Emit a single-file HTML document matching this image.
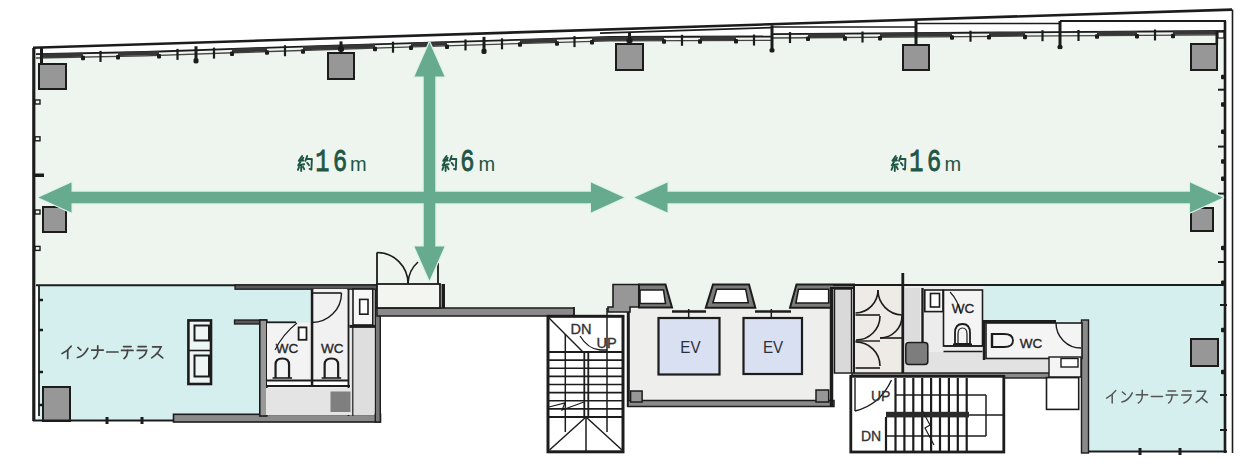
<!DOCTYPE html>
<html><head><meta charset="utf-8"><style>
html,body{margin:0;padding:0;background:#fff;}
body{width:1243px;height:465px;overflow:hidden;font-family:"Liberation Sans",sans-serif;}
svg{display:block;}
</style></head><body>
<svg width="1243" height="465" viewBox="0 0 1243 465">
<rect width="1243" height="465" fill="#fff"/>
<polygon points="36,54.2 145,52 255,48.2 405,43.3 535,39.3 610,37 771.9,36.5 772.1,34.2 1000,32.5 1224,31 1224,286 831,286 831,309 613,309 613,315 440,315 440,286 36,286" fill="#edf5ee"/>
<polygon points="38,286 312,286 312,322 260,322 260,416 173,416 173,420 38,420" fill="#d5eeee"/>
<polygon points="984,286 1224,286 1224,451 1088,451 1088,321 984,321" fill="#d5eeee"/>
<rect x="312" y="289" width="63" height="127" fill="#ececec"/>
<rect x="262" y="322" width="50" height="94" fill="#ececec"/>
<rect x="628" y="309" width="205" height="92" fill="#eeeeec"/>
<rect x="833" y="286" width="20" height="88" fill="#d9d9d9"/>
<rect x="855" y="286" width="47" height="88" fill="#eeebe6"/>
<rect x="903" y="286" width="81" height="88" fill="#ececec"/>
<rect x="984" y="321" width="104" height="53" fill="#ececec"/>
<rect x="377" y="284" width="63" height="24" fill="#f2f4f0"/>
<line x1="33" y1="47.8" x2="1232" y2="9.6" stroke="#1c1c1c" stroke-width="2.6"/>
<line x1="600" y1="33.0354" x2="772" y2="27.5555" stroke="#1c1c1c" stroke-width="1.8"/>
<polyline points="36,54.2 145,52 255,48.2 405,43.3 535,39.3 610,37 771.9,36.5 772.1,34.2 1000,32.5 1225,31" fill="none" stroke="#1c1c1c" stroke-width="1.8"/>
<polyline points="36,58 145,55.8 255,52 405,47.1 535,43.1 610,40.8 771.9,40.3 772.1,38 1000,36.3 1225,34.8" fill="none" stroke="#444" stroke-width="1.3"/>
<polygon points="43,53.5587 83,52.7514 83,56.7514 43,57.5587" fill="#363636"/>
<polygon points="118,52.045 159,51.0164 159,55.0164 118,56.045" fill="#363636"/>
<polygon points="232,48.4945 267,47.308 267,51.308 232,52.4945" fill="#363636"/>
<polygon points="303,46.132 375,43.78 375,47.78 303,50.132" fill="#363636"/>
<polygon points="411,42.6154 447,41.5077 447,45.5077 411,46.6154" fill="#363636"/>
<polygon points="520,39.2615 557,38.1253 557,42.1253 520,43.2615" fill="#363636"/>
<polygon points="592,37.052 664,36.3332 664,40.3332 592,41.052" fill="#363636"/>
<polygon points="700,36.2221 736,36.1109 736,40.1109 700,40.2221" fill="#363636"/>
<polygon points="808,33.4322 845,33.1562 845,37.1562 808,37.4322" fill="#363636"/>
<polygon points="880,32.8951 952,32.3581 952,36.3581 880,36.8951" fill="#363636"/>
<polygon points="989,32.0821 1025,31.8333 1025,35.8333 989,36.0821" fill="#363636"/>
<polygon points="1097,31.3533 1137,31.0867 1137,35.0867 1097,35.3533" fill="#363636"/>
<polygon points="1173,30.8467 1222,30.52 1222,34.52 1173,34.8467" fill="#363636"/>
<rect x="99.4" y="50.8982" width="2.2" height="11" fill="#1c1c1c"/>
<rect x="81" y="55.7514" width="4" height="4.5" rx="1" fill="#1c1c1c"/>
<rect x="116" y="55.045" width="4" height="4.5" rx="1" fill="#1c1c1c"/>
<rect x="176.4" y="48.8773" width="2.2" height="11" fill="#1c1c1c"/>
<rect x="157" y="54.0164" width="4" height="4.5" rx="1" fill="#1c1c1c"/>
<rect x="212.9" y="47.6164" width="2.2" height="11" fill="#1c1c1c"/>
<rect x="230" y="51.4945" width="4" height="4.5" rx="1" fill="#1c1c1c"/>
<rect x="283.9" y="45.22" width="2.2" height="11" fill="#1c1c1c"/>
<rect x="265" y="50.308" width="4" height="4.5" rx="1" fill="#1c1c1c"/>
<rect x="301" y="49.132" width="4" height="4.5" rx="1" fill="#1c1c1c"/>
<rect x="391.9" y="41.692" width="2.2" height="11" fill="#1c1c1c"/>
<rect x="373" y="46.78" width="4" height="4.5" rx="1" fill="#1c1c1c"/>
<rect x="409" y="45.6154" width="4" height="4.5" rx="1" fill="#1c1c1c"/>
<rect x="464.4" y="39.4385" width="2.2" height="11" fill="#1c1c1c"/>
<rect x="445" y="44.5077" width="4" height="4.5" rx="1" fill="#1c1c1c"/>
<rect x="500.9" y="38.3154" width="2.2" height="11" fill="#1c1c1c"/>
<rect x="518" y="42.2615" width="4" height="4.5" rx="1" fill="#1c1c1c"/>
<rect x="573.4" y="36.0887" width="2.2" height="11" fill="#1c1c1c"/>
<rect x="555" y="41.1253" width="4" height="4.5" rx="1" fill="#1c1c1c"/>
<rect x="590" y="40.052" width="4" height="4.5" rx="1" fill="#1c1c1c"/>
<rect x="680.9" y="34.7776" width="2.2" height="11" fill="#1c1c1c"/>
<rect x="662" y="39.3332" width="4" height="4.5" rx="1" fill="#1c1c1c"/>
<rect x="698" y="39.2221" width="4" height="4.5" rx="1" fill="#1c1c1c"/>
<rect x="752.9" y="34.5553" width="2.2" height="11" fill="#1c1c1c"/>
<rect x="734" y="39.1109" width="4" height="4.5" rx="1" fill="#1c1c1c"/>
<rect x="788.9" y="32.0665" width="2.2" height="11" fill="#1c1c1c"/>
<rect x="806" y="36.4322" width="4" height="4.5" rx="1" fill="#1c1c1c"/>
<rect x="861.4" y="31.5257" width="2.2" height="11" fill="#1c1c1c"/>
<rect x="843" y="36.1562" width="4" height="4.5" rx="1" fill="#1c1c1c"/>
<rect x="878" y="35.8951" width="4" height="4.5" rx="1" fill="#1c1c1c"/>
<rect x="969.4" y="30.7201" width="2.2" height="11" fill="#1c1c1c"/>
<rect x="950" y="35.3581" width="4" height="4.5" rx="1" fill="#1c1c1c"/>
<rect x="987" y="35.0821" width="4" height="4.5" rx="1" fill="#1c1c1c"/>
<rect x="1041.4" y="30.2167" width="2.2" height="11" fill="#1c1c1c"/>
<rect x="1023" y="34.8333" width="4" height="4.5" rx="1" fill="#1c1c1c"/>
<rect x="1077.4" y="29.9767" width="2.2" height="11" fill="#1c1c1c"/>
<rect x="1095" y="34.3533" width="4" height="4.5" rx="1" fill="#1c1c1c"/>
<rect x="1153.9" y="29.4667" width="2.2" height="11" fill="#1c1c1c"/>
<rect x="1135" y="34.0867" width="4" height="4.5" rx="1" fill="#1c1c1c"/>
<rect x="1171" y="33.8467" width="4" height="4.5" rx="1" fill="#1c1c1c"/>
<rect x="194.5" y="46.2382" width="3" height="17" fill="#1c1c1c"/>
<rect x="193.5" y="58.2382" width="5" height="5" rx="1.5" fill="#1c1c1c"/>
<rect x="482.5" y="36.8692" width="3" height="17" fill="#1c1c1c"/>
<rect x="481.5" y="48.8692" width="5" height="5" rx="1.5" fill="#1c1c1c"/>
<rect x="770.5" y="25.2555" width="3" height="27.0945" fill="#1c1c1c"/>
<rect x="769.5" y="48.35" width="5" height="4" rx="1.5" fill="#1c1c1c"/>
<rect x="1058.5" y="21" width="3" height="28.1" fill="#1c1c1c"/>
<rect x="1057.5" y="45.1" width="5" height="4" rx="1.5" fill="#1c1c1c"/>
<rect x="339.5" y="41.3907" width="3" height="11.6093" fill="#1c1c1c"/>
<rect x="338" y="46.3907" width="6" height="5" rx="1.5" fill="#1c1c1c"/>
<rect x="628" y="32.9398" width="3" height="11.0602" fill="#1c1c1c"/>
<rect x="626.5" y="37.9398" width="6" height="5" rx="1.5" fill="#1c1c1c"/>
<rect x="914.5" y="20" width="3" height="26" fill="#1c1c1c"/>
<line x1="772" y1="27" x2="916" y2="27" stroke="#1c1c1c" stroke-width="1.6"/>
<line x1="916" y1="23.5" x2="1060" y2="23.5" stroke="#1c1c1c" stroke-width="1.6"/>
<line x1="1060" y1="21" x2="1226" y2="21" stroke="#1c1c1c" stroke-width="1.8"/>
<rect x="1215.5" y="31" width="2.6" height="14" fill="#1c1c1c"/>
<rect x="1218" y="32" width="6" height="6" fill="#fff" stroke="#1c1c1c" stroke-width="1.2"/>
<rect x="40" y="47" width="3" height="17" fill="#1c1c1c"/>
<line x1="1232.5" y1="9.5" x2="1232.5" y2="453" stroke="#1c1c1c" stroke-width="1.6"/>
<line x1="1225" y1="21" x2="1225" y2="453" stroke="#1c1c1c" stroke-width="2.6"/>
<line x1="33.8" y1="48" x2="33.8" y2="421" stroke="#1c1c1c" stroke-width="3.2"/>
<line x1="39" y1="286" x2="39" y2="416" stroke="#1c1c1c" stroke-width="1.8"/>
<rect x="35" y="100" width="5" height="4" fill="none" stroke="#1c1c1c" stroke-width="1.4"/>
<rect x="35" y="136.8" width="5" height="4" fill="none" stroke="#1c1c1c" stroke-width="1.4"/>
<rect x="35" y="210" width="5" height="4" fill="none" stroke="#1c1c1c" stroke-width="1.4"/>
<rect x="35" y="246.4" width="5" height="4" fill="none" stroke="#1c1c1c" stroke-width="1.4"/>
<rect x="35" y="173.5" width="9" height="3.5" fill="#1c1c1c"/>
<rect x="39" y="298.75" width="4" height="2.5" fill="#1c1c1c"/>
<rect x="39" y="328.75" width="4" height="2.5" fill="#1c1c1c"/>
<rect x="39" y="370.75" width="4" height="2.5" fill="#1c1c1c"/>
<rect x="39" y="403.75" width="4" height="2.5" fill="#1c1c1c"/>
<rect x="1218" y="88.7" width="8" height="2" fill="#1c1c1c"/>
<rect x="1218" y="145.6" width="8" height="2" fill="#1c1c1c"/>
<rect x="1218" y="192.6" width="8" height="2" fill="#1c1c1c"/>
<rect x="1218" y="261" width="8" height="2" fill="#1c1c1c"/>
<rect x="1221" y="74.75" width="4" height="4.5" rx="1" fill="#1c1c1c"/>
<rect x="1221" y="102.25" width="4" height="4.5" rx="1" fill="#1c1c1c"/>
<rect x="1221" y="129.55" width="4" height="4.5" rx="1" fill="#1c1c1c"/>
<rect x="1221" y="159.25" width="4" height="4.5" rx="1" fill="#1c1c1c"/>
<rect x="1221" y="176.55" width="4" height="4.5" rx="1" fill="#1c1c1c"/>
<rect x="1221" y="245.75" width="4" height="4.5" rx="1" fill="#1c1c1c"/>
<rect x="1221" y="280.55" width="4" height="4.5" rx="1" fill="#1c1c1c"/>
<rect x="1221" y="327.75" width="4" height="4.5" rx="1" fill="#1c1c1c"/>
<rect x="1221" y="369.75" width="4" height="4.5" rx="1" fill="#1c1c1c"/>
<rect x="1220" y="304" width="7" height="2" fill="#1c1c1c"/>
<rect x="1220" y="394" width="7" height="2" fill="#1c1c1c"/>
<rect x="1220" y="429" width="7" height="2" fill="#1c1c1c"/>
<rect x="39" y="64" width="27" height="25" fill="#979797" stroke="#1c1c1c" stroke-width="2"/>
<rect x="328" y="53" width="26" height="26" fill="#979797" stroke="#1c1c1c" stroke-width="2"/>
<rect x="616" y="44" width="27" height="26" fill="#979797" stroke="#1c1c1c" stroke-width="2"/>
<rect x="903" y="45" width="26" height="25" fill="#979797" stroke="#1c1c1c" stroke-width="2"/>
<rect x="1191" y="44" width="26" height="26" fill="#979797" stroke="#1c1c1c" stroke-width="2"/>
<rect x="43" y="207" width="23" height="25" fill="#979797" stroke="#1c1c1c" stroke-width="2"/>
<rect x="1191" y="208" width="22" height="23" fill="#979797" stroke="#1c1c1c" stroke-width="2"/>
<rect x="43" y="387" width="27" height="34" fill="#979797" stroke="#1c1c1c" stroke-width="2"/>
<rect x="1191" y="339" width="27" height="27" fill="#979797" stroke="#1c1c1c" stroke-width="2"/>
<line x1="36" y1="285.3" x2="377" y2="285.3" stroke="#1c1c1c" stroke-width="2"/>
<line x1="33" y1="420.5" x2="174" y2="420.5" stroke="#1c1c1c" stroke-width="1.8"/>
<rect x="105.5" y="417" width="3" height="7" fill="#1c1c1c"/>
<rect x="140.5" y="417" width="3" height="7" fill="#1c1c1c"/>
<rect x="173.5" y="414.3" width="207" height="7.7" fill="#8a8a8a" stroke="#1c1c1c" stroke-width="1.6"/>
<rect x="375.3" y="285" width="5" height="137" fill="#777777" stroke="#1c1c1c" stroke-width="1.4"/>
<rect x="235" y="285" width="142" height="4.2" fill="#5a5a5a" stroke="#1c1c1c" stroke-width="1.3"/>
<rect x="234.5" y="320" width="32" height="4" fill="#5a5a5a" stroke="#1c1c1c" stroke-width="1.3"/>
<rect x="259.8" y="320" width="7" height="96" fill="#999999" stroke="#1c1c1c" stroke-width="1.6"/>
<line x1="903" y1="285" x2="1224" y2="285" stroke="#1c1c1c" stroke-width="2"/>
<rect x="1081.5" y="320" width="7" height="133" fill="#8a8a8a" stroke="#1c1c1c" stroke-width="1.4"/>
<line x1="1088" y1="451.5" x2="1227" y2="451.5" stroke="#1c1c1c" stroke-width="1.8"/>
<rect x="1138.5" y="448" width="3" height="7" fill="#1c1c1c"/>
<rect x="1178.5" y="448" width="3" height="7" fill="#1c1c1c"/>
<rect x="377" y="308" width="197" height="8" fill="#8a8a8a" stroke="#1c1c1c" stroke-width="1.5"/>
<rect x="548" y="316.3" width="75" height="135.5" fill="#ffffff" stroke="#1c1c1c" stroke-width="3"/>
<line x1="574" y1="307" x2="574" y2="317" stroke="#1c1c1c" stroke-width="1.5"/>
<line x1="607" y1="308" x2="607" y2="432" stroke="#1c1c1c" stroke-width="1.5"/>
<line x1="565.3" y1="334" x2="565.3" y2="432" stroke="#1c1c1c" stroke-width="1.5"/>
<line x1="549" y1="318" x2="583" y2="352" stroke="#1c1c1c" stroke-width="1.5"/>
<path d="M580,336 Q588,349 600,350 L607,350" fill="none" stroke="#1c1c1c" stroke-width="1.3"/>
<line x1="549" y1="352" x2="622" y2="352" stroke="#1c1c1c" stroke-width="1.8"/>
<line x1="549" y1="360.125" x2="622" y2="360.125" stroke="#1c1c1c" stroke-width="1.6"/>
<line x1="549" y1="368.25" x2="622" y2="368.25" stroke="#1c1c1c" stroke-width="1.6"/>
<line x1="549" y1="376.375" x2="622" y2="376.375" stroke="#1c1c1c" stroke-width="1.6"/>
<line x1="549" y1="384.5" x2="622" y2="384.5" stroke="#1c1c1c" stroke-width="1.6"/>
<line x1="549" y1="392.625" x2="622" y2="392.625" stroke="#1c1c1c" stroke-width="1.6"/>
<line x1="549" y1="400.75" x2="622" y2="400.75" stroke="#1c1c1c" stroke-width="1.6"/>
<line x1="549" y1="408.875" x2="622" y2="408.875" stroke="#1c1c1c" stroke-width="1.6"/>
<line x1="549" y1="417" x2="622" y2="417" stroke="#1c1c1c" stroke-width="1.8"/>
<line x1="584.3" y1="352" x2="584.3" y2="417" stroke="#1c1c1c" stroke-width="1.8"/>
<line x1="588.3" y1="352" x2="588.3" y2="417" stroke="#1c1c1c" stroke-width="1.8"/>
<line x1="586" y1="417" x2="586" y2="451" stroke="#1c1c1c" stroke-width="1.5"/>
<line x1="586" y1="417" x2="549.5" y2="450" stroke="#1c1c1c" stroke-width="1.5"/>
<line x1="586" y1="417" x2="622" y2="450" stroke="#1c1c1c" stroke-width="1.5"/>
<path d="M549,407 L565,403 L562,410 L584,402" fill="none" stroke="#1c1c1c" stroke-width="1.2"/>
<text x="570.5" y="334.3" font-family="Liberation Sans" font-size="14.5" fill="#333" stroke="#333" text-anchor="start" font-weight="normal" stroke-width="0.35">DN</text>
<text x="596.5" y="348" font-family="Liberation Sans" font-size="14.5" fill="#333" stroke="#333" text-anchor="start" font-weight="normal" stroke-width="0.35">UP</text>
<line x1="628.3" y1="309" x2="628.3" y2="407" stroke="#1c1c1c" stroke-width="3"/>
<rect x="628" y="400.5" width="206" height="6" fill="#8a8a8a" stroke="#1c1c1c" stroke-width="1.5"/>
<line x1="831.5" y1="286" x2="831.5" y2="407" stroke="#1c1c1c" stroke-width="3.5"/>
<line x1="672" y1="311.5" x2="706" y2="311.5" stroke="#1c1c1c" stroke-width="2.6"/>
<line x1="755" y1="311.5" x2="791" y2="311.5" stroke="#1c1c1c" stroke-width="2.6"/>
<path d="M613,284.5 L639,284.5 L639,307 L630,307 L630,312 L608,312 L608,307 L613,307 Z" fill="#979797" stroke="#1c1c1c" stroke-width="1.6"/>
<path d="M639,284.5 L665.5,284.5 L672,307.5 L639,307.5 Z" fill="#7c7c7c" stroke="#1c1c1c" stroke-width="2"/>
<path d="M640,290 L663.5,290 L665.5,303.5 L640,303.5 Z" fill="#ffffff" stroke="#1c1c1c" stroke-width="1.6"/>
<path d="M713,284.5 L749,284.5 L755.3,307.8 L705.8,307.8 Z" fill="#7c7c7c" stroke="#1c1c1c" stroke-width="2"/>
<path d="M716.7,289.2 L745.7,289.2 L748.3,302.7 L712.9,302.7 Z" fill="#ffffff" stroke="#1c1c1c" stroke-width="1.6"/>
<path d="M796.5,284.5 L854,284.5 L854,288 L831,288 L831,307.8 L790,307.8 Z" fill="#7c7c7c" stroke="#1c1c1c" stroke-width="2"/>
<path d="M798.5,289.2 L828.7,289.2 L828.7,303 L795.9,303 Z" fill="#ffffff" stroke="#1c1c1c" stroke-width="1.6"/>
<rect x="658.5" y="318" width="61" height="56.5" fill="#d8e0f1" stroke="#1c1c1c" stroke-width="2.2"/>
<rect x="743.5" y="318" width="58.5" height="56" fill="#d8e0f1" stroke="#1c1c1c" stroke-width="2.2"/>
<line x1="688.7" y1="309" x2="688.7" y2="318" stroke="#1c1c1c" stroke-width="1.5"/>
<line x1="771.3" y1="309" x2="771.3" y2="318" stroke="#1c1c1c" stroke-width="1.5"/>
<text x="0" y="0" font-family="Liberation Sans" font-size="16.5" fill="#2b2f3a" text-anchor="middle" transform="translate(690.4,353.3) scale(0.92,1)">EV</text>
<text x="0" y="0" font-family="Liberation Sans" font-size="16.5" fill="#2b2f3a" text-anchor="middle" transform="translate(773,353.3) scale(0.92,1)">EV</text>
<rect x="630.6" y="391" width="11.5" height="11" fill="#979797" stroke="#1c1c1c" stroke-width="1.5"/>
<rect x="816" y="390" width="12.7" height="12" fill="#979797" stroke="#1c1c1c" stroke-width="1.5"/>
<rect x="834.5" y="289" width="17" height="84" fill="#d9d9d9" stroke="#1c1c1c" stroke-width="1.4"/>
<line x1="854" y1="285" x2="854" y2="374" stroke="#1c1c1c" stroke-width="2"/>
<line x1="902.8" y1="273" x2="902.8" y2="374" stroke="#1c1c1c" stroke-width="2.8"/>
<line x1="833" y1="285" x2="903" y2="285" stroke="#1c1c1c" stroke-width="2"/>
<path d="M878,290 A23,23 0 0 1 855.5,313" fill="none" stroke="#1c1c1c" stroke-width="1.6"/>
<path d="M878,290 A25,25 0 0 0 902,315" fill="none" stroke="#1c1c1c" stroke-width="1.6"/>
<line x1="855.5" y1="315" x2="880" y2="315" stroke="#1c1c1c" stroke-width="1.6"/>
<path d="M880,316 A24,24 0 0 1 856,340" fill="none" stroke="#1c1c1c" stroke-width="1.6"/>
<path d="M902,316 A22,22 0 0 1 880,338" fill="none" stroke="#1c1c1c" stroke-width="1.6"/>
<line x1="880" y1="338" x2="902" y2="338" stroke="#1c1c1c" stroke-width="1.6"/>
<line x1="855.5" y1="341" x2="880" y2="341" stroke="#1c1c1c" stroke-width="1.4"/>
<path d="M855.5,342 A24,24 0 0 1 880,366" fill="none" stroke="#1c1c1c" stroke-width="1.6"/>
<line x1="855.5" y1="368" x2="880" y2="368" stroke="#1c1c1c" stroke-width="1.6"/>
<rect x="905" y="352" width="145" height="21" fill="#e2e2e2" stroke="#1c1c1c" stroke-width="0"/>
<rect x="905" y="288" width="15" height="53" fill="#dcdcdc" stroke="#1c1c1c" stroke-width="0"/>
<line x1="922.5" y1="288" x2="922.5" y2="342" stroke="#1c1c1c" stroke-width="2.4"/>
<rect x="924.8" y="290" width="18.2" height="21.6" fill="#f6f6f6" stroke="#1c1c1c" stroke-width="1.6"/>
<rect x="930.5" y="293.5" width="9" height="13.5" fill="#ffffff" stroke="#1c1c1c" stroke-width="1.6"/>
<rect x="943.5" y="290" width="39" height="56" fill="#f4f4f4" stroke="#1c1c1c" stroke-width="1.6"/>
<line x1="943.5" y1="346" x2="982.5" y2="346" stroke="#1c1c1c" stroke-width="1.6"/>
<line x1="943.5" y1="351.5" x2="982.5" y2="351.5" stroke="#1c1c1c" stroke-width="1.6"/>
<line x1="984" y1="320" x2="984" y2="360" stroke="#1c1c1c" stroke-width="2.4"/>
<rect x="986" y="323" width="96" height="35.5" fill="#f4f4f4" stroke="#1c1c1c" stroke-width="1.6"/>
<line x1="984" y1="321.5" x2="1056" y2="321.5" stroke="#1c1c1c" stroke-width="3"/>
<path d="M1056,323 A25,25 0 0 0 1081,348" fill="none" stroke="#1c1c1c" stroke-width="1.4"/>
<path d="M955,344 L955,333 Q955,324 962.5,324 Q970,324 970,333 L970,344 Z" fill="#f4f4f4" stroke="#1c1c1c" stroke-width="1.8"/>
<path d="M958,343 L958,334 Q958,328 962.5,328 Q967,328 967,334 L967,343" fill="none" stroke="#1c1c1c" stroke-width="1.2"/>
<line x1="953" y1="344.5" x2="972" y2="344.5" stroke="#1c1c1c" stroke-width="2"/>
<path d="M992,334 L1004,334 Q1013,334 1013,340.5 Q1013,347 1004,347 L992,347 Z" fill="#f4f4f4" stroke="#1c1c1c" stroke-width="1.8"/>
<line x1="992" y1="333" x2="992" y2="348" stroke="#1c1c1c" stroke-width="2.4"/>
<text x="963" y="313" font-family="Liberation Sans" font-size="13.5" fill="#262626" stroke="#262626" text-anchor="middle" font-weight="normal" stroke-width="0.35">WC</text>
<text x="1031" y="348" font-family="Liberation Sans" font-size="13.5" fill="#262626" stroke="#262626" text-anchor="middle" font-weight="normal" stroke-width="0.35">WC</text>
<path d="M950,292 Q958,300 961,314" fill="none" stroke="#1c1c1c" stroke-width="1.1"/>
<rect x="905.8" y="342.6" width="22" height="22" rx="3" fill="#7d7d7d" stroke="#1c1c1c" stroke-width="1.5"/>
<rect x="852" y="373" width="198" height="5" fill="#8a8a8a" stroke="#1c1c1c" stroke-width="1.4"/>
<rect x="1049" y="357" width="32" height="20" fill="#f4f4f4" stroke="#1c1c1c" stroke-width="1.4"/>
<rect x="1061" y="358.5" width="17" height="8.5" fill="#ffffff" stroke="#1c1c1c" stroke-width="1.4"/>
<rect x="1046.5" y="377.6" width="32.2" height="31.8" fill="#ffffff" stroke="#1c1c1c" stroke-width="1.6"/>
<rect x="850.8" y="376.3" width="153" height="75.7" fill="#ffffff" stroke="#1c1c1c" stroke-width="2.8"/>
<line x1="895.5" y1="378" x2="895.5" y2="412" stroke="#1c1c1c" stroke-width="2.2"/>
<line x1="904.4" y1="378" x2="904.4" y2="412" stroke="#1c1c1c" stroke-width="2.2"/>
<line x1="913.3" y1="378" x2="913.3" y2="412" stroke="#1c1c1c" stroke-width="2.2"/>
<line x1="922.2" y1="378" x2="922.2" y2="412" stroke="#1c1c1c" stroke-width="2.2"/>
<line x1="931.1" y1="378" x2="931.1" y2="412" stroke="#1c1c1c" stroke-width="2.2"/>
<line x1="940" y1="378" x2="940" y2="412" stroke="#1c1c1c" stroke-width="2.2"/>
<line x1="948.9" y1="378" x2="948.9" y2="412" stroke="#1c1c1c" stroke-width="2.2"/>
<line x1="957.8" y1="378" x2="957.8" y2="412" stroke="#1c1c1c" stroke-width="2.2"/>
<line x1="966.7" y1="378" x2="966.7" y2="412" stroke="#1c1c1c" stroke-width="2.2"/>
<line x1="886" y1="417" x2="886" y2="451" stroke="#1c1c1c" stroke-width="2.2"/>
<line x1="895.5" y1="417" x2="895.5" y2="451" stroke="#1c1c1c" stroke-width="2.2"/>
<line x1="904.4" y1="417" x2="904.4" y2="451" stroke="#1c1c1c" stroke-width="2.2"/>
<line x1="913.3" y1="417" x2="913.3" y2="451" stroke="#1c1c1c" stroke-width="2.2"/>
<line x1="922.2" y1="417" x2="922.2" y2="451" stroke="#1c1c1c" stroke-width="2.2"/>
<line x1="931.1" y1="417" x2="931.1" y2="451" stroke="#1c1c1c" stroke-width="2.2"/>
<line x1="940" y1="417" x2="940" y2="451" stroke="#1c1c1c" stroke-width="2.2"/>
<line x1="948.9" y1="417" x2="948.9" y2="451" stroke="#1c1c1c" stroke-width="2.2"/>
<line x1="957.8" y1="417" x2="957.8" y2="451" stroke="#1c1c1c" stroke-width="2.2"/>
<line x1="966.7" y1="417" x2="966.7" y2="451" stroke="#1c1c1c" stroke-width="2.2"/>
<rect x="886" y="411.8" width="83" height="5.6" fill="#2a2a2a" stroke="#1c1c1c" stroke-width="0"/>
<line x1="895" y1="395" x2="986" y2="395" stroke="#1c1c1c" stroke-width="1.5"/>
<line x1="886" y1="436" x2="986" y2="436" stroke="#1c1c1c" stroke-width="1.5"/>
<line x1="986" y1="395" x2="986" y2="436" stroke="#1c1c1c" stroke-width="1.5"/>
<line x1="969" y1="415" x2="1003" y2="415" stroke="#1c1c1c" stroke-width="1.5"/>
<line x1="855" y1="378" x2="855" y2="411" stroke="#1c1c1c" stroke-width="1.4"/>
<path d="M855,411 Q880,405 891.5,380" fill="none" stroke="#1c1c1c" stroke-width="1.4"/>
<path d="M922,410 L930,425 L925,428 L934,445" fill="none" stroke="#1c1c1c" stroke-width="1.2"/>
<text x="871" y="401" font-family="Liberation Sans" font-size="14" fill="#333" stroke="#333" text-anchor="start" font-weight="normal" stroke-width="0.35">UP</text>
<text x="861" y="440.5" font-family="Liberation Sans" font-size="14" fill="#333" stroke="#333" text-anchor="start" font-weight="normal" stroke-width="0.35">DN</text>
<rect x="267" y="323" width="41.8" height="57.5" fill="#f3f3f3" stroke="#1c1c1c" stroke-width="0"/>
<rect x="313.3" y="289" width="34" height="91.5" fill="#f1f1f1" stroke="#1c1c1c" stroke-width="0"/>
<rect x="267" y="380.5" width="80" height="5" fill="#ffffff" stroke="#1c1c1c" stroke-width="0"/>
<line x1="267" y1="380.5" x2="348" y2="380.5" stroke="#1c1c1c" stroke-width="1.8"/>
<line x1="267" y1="386" x2="350" y2="386" stroke="#1c1c1c" stroke-width="2.2"/>
<rect x="310.8" y="289" width="2.5" height="97" fill="#1c1c1c" stroke="#1c1c1c" stroke-width="0"/>
<line x1="348.5" y1="289" x2="348.5" y2="416" stroke="#1c1c1c" stroke-width="1.8"/>
<rect x="266" y="388" width="85" height="27" fill="#e4e4e4" stroke="#1c1c1c" stroke-width="0"/>
<rect x="330.5" y="391.5" width="20" height="20.5" fill="#7f7f7f" stroke="#1c1c1c" stroke-width="0"/>
<rect x="351" y="326" width="23.5" height="89" fill="#dedede" stroke="#1c1c1c" stroke-width="0"/>
<line x1="352.8" y1="326" x2="352.8" y2="416" stroke="#1c1c1c" stroke-width="1.2"/>
<rect x="353" y="289" width="19.8" height="36" fill="#f6f6f6" stroke="#1c1c1c" stroke-width="1.6"/>
<rect x="359.7" y="299.4" width="8.3" height="14.8" fill="#ffffff" stroke="#1c1c1c" stroke-width="1.6"/>
<line x1="349.4" y1="326.4" x2="375" y2="326.4" stroke="#1c1c1c" stroke-width="3"/>
<line x1="312" y1="293" x2="341.5" y2="293" stroke="#1c1c1c" stroke-width="1.6"/>
<path d="M341.5,293 A29.5,29.5 0 0 1 312,322.5" fill="none" stroke="#1c1c1c" stroke-width="1.4"/>
<line x1="266" y1="322.3" x2="296" y2="322.3" stroke="#1c1c1c" stroke-width="1.8"/>
<rect x="298.6" y="327.4" width="7.9" height="12.4" fill="#ffffff" stroke="#1c1c1c" stroke-width="1.8"/>
<path d="M275,350 Q283,334 297,323" fill="none" stroke="#1c1c1c" stroke-width="1.1"/>
<path d="M275.55,378 L275.55,364.575 Q275.55,358.5 282.3,358.5 Q289.05,358.5 289.05,364.575 L289.05,378" fill="none" stroke="#1c1c1c" stroke-width="2.2"/>
<line x1="272.55" y1="378" x2="292.05" y2="378" stroke="#1c1c1c" stroke-width="1.6"/>
<path d="M324.65,378 L324.65,364.575 Q324.65,358.5 331.4,358.5 Q338.15,358.5 338.15,364.575 L338.15,378" fill="none" stroke="#1c1c1c" stroke-width="2.2"/>
<line x1="321.65" y1="378" x2="341.15" y2="378" stroke="#1c1c1c" stroke-width="1.6"/>
<text x="287" y="352.6" font-family="Liberation Sans" font-size="13.5" fill="#262626" stroke="#262626" text-anchor="middle" font-weight="normal" stroke-width="0.35">WC</text>
<text x="332.3" y="352.6" font-family="Liberation Sans" font-size="13.5" fill="#262626" stroke="#262626" text-anchor="middle" font-weight="normal" stroke-width="0.35">WC</text>
<rect x="188.4" y="320.4" width="22.6" height="63.6" fill="#eef5f5" stroke="#1c1c1c" stroke-width="2.6"/>
<rect x="194.5" y="325.5" width="14.5" height="15" fill="#eef5f5" stroke="#1c1c1c" stroke-width="2"/>
<line x1="189" y1="350.5" x2="210.5" y2="350.5" stroke="#1c1c1c" stroke-width="1.6"/>
<rect x="194.5" y="355.5" width="14.5" height="21" fill="#eef5f5" stroke="#1c1c1c" stroke-width="2"/>
<rect x="377" y="284" width="63" height="24" fill="#f3f5f1" stroke="#1c1c1c" stroke-width="1.8"/>
<line x1="377" y1="252.5" x2="377" y2="284" stroke="#1c1c1c" stroke-width="1.8"/>
<path d="M377,252.5 A31,31 0 0 1 408,283.5" fill="none" stroke="#1c1c1c" stroke-width="1.6"/>
<line x1="438" y1="263" x2="438" y2="284" stroke="#1c1c1c" stroke-width="1.8"/>
<path d="M408,283.5 A30,30 0 0 1 418,262" fill="none" stroke="#1c1c1c" stroke-width="1.6"/>
<rect x="441.5" y="284" width="3.5" height="24" fill="#1c1c1c" stroke="#1c1c1c" stroke-width="0"/>
<path d="M302.1,156 L298.8,160.8 L303.3,160.5 M303.3,157.8 L298.2,165.3 L304.2,164.25 M301.2,164.7 L301.2,171 M299.1,166.8 L297.9,169.8 M303,166.8 L304.2,169.2 M307.2,156 L305.4,160.8 M306.15,159 L311.85,159 L311.4,169.5 L309.6,168.9 M307.2,162.75 L309,165.3" fill="none" stroke="#1f5646" stroke-width="1.9" stroke-linecap="round" stroke-linejoin="round"/>
<text x="0" y="170.6" font-family="Liberation Mono" font-size="31.5" letter-spacing="5" fill="#1f5646" stroke="#1f5646" stroke-width="0.9" transform="translate(315.2,0) scale(0.75,1)">16</text>
<text x="350" y="170.8" font-family="Liberation Sans" font-size="20" fill="#1f5646">m</text>
<path d="M446.5,156 L443.2,160.8 L447.7,160.5 M447.7,157.8 L442.6,165.3 L448.6,164.25 M445.6,164.7 L445.6,171 M443.5,166.8 L442.3,169.8 M447.4,166.8 L448.6,169.2 M451.6,156 L449.8,160.8 M450.55,159 L456.25,159 L455.8,169.5 L454,168.9 M451.6,162.75 L453.4,165.3" fill="none" stroke="#1f5646" stroke-width="1.9" stroke-linecap="round" stroke-linejoin="round"/>
<text x="0" y="170.6" font-family="Liberation Mono" font-size="31.5" letter-spacing="5" fill="#1f5646" stroke="#1f5646" stroke-width="0.9" transform="translate(460.3,0) scale(0.75,1)">6</text>
<text x="478.5" y="170.8" font-family="Liberation Sans" font-size="20" fill="#1f5646">m</text>
<path d="M895.7,156 L892.4,160.8 L896.9,160.5 M896.9,157.8 L891.8,165.3 L897.8,164.25 M894.8,164.7 L894.8,171 M892.7,166.8 L891.5,169.8 M896.6,166.8 L897.8,169.2 M900.8,156 L899,160.8 M899.75,159 L905.45,159 L905,169.5 L903.2,168.9 M900.8,162.75 L902.6,165.3" fill="none" stroke="#1f5646" stroke-width="1.9" stroke-linecap="round" stroke-linejoin="round"/>
<text x="0" y="170.6" font-family="Liberation Mono" font-size="31.5" letter-spacing="5" fill="#1f5646" stroke="#1f5646" stroke-width="0.9" transform="translate(909.2,0) scale(0.75,1)">16</text>
<text x="944.5" y="170.8" font-family="Liberation Sans" font-size="20" fill="#1f5646">m</text>
<path d="M 71.172,346.15 Q 67.7,350.96 62.12,353.56" fill="none" stroke="#444444" stroke-width="1.7" stroke-linecap="round"/>
<path d="M 67.7,350.18 L 67.7,358.5" fill="none" stroke="#444444" stroke-width="1.7" stroke-linecap="round"/>
<path d="M 77.888,347.45 L 80.864,350.05" fill="none" stroke="#444444" stroke-width="1.7" stroke-linecap="round"/>
<path d="M 77.392,357.46 Q 84.088,356.16 87.808,348.36" fill="none" stroke="#444444" stroke-width="1.7" stroke-linecap="round"/>
<path d="M 91.796,350.18 L 103.204,350.18" fill="none" stroke="#444444" stroke-width="1.7" stroke-linecap="round"/>
<path d="M 97.748,345.76 L 97.748,352 Q 97.252,356.55 93.78,358.5" fill="none" stroke="#444444" stroke-width="1.7" stroke-linecap="round"/>
<path d="M 106.82,352 L 117.98,352" fill="none" stroke="#444444" stroke-width="1.7" stroke-linecap="round"/>
<path d="M 123.58,346.54 L 131.02,346.54" fill="none" stroke="#444444" stroke-width="1.7" stroke-linecap="round"/>
<path d="M 121.596,350.44 L 133.004,350.44" fill="none" stroke="#444444" stroke-width="1.7" stroke-linecap="round"/>
<path d="M 127.548,350.44 Q 127.548,356.16 124.076,358.5" fill="none" stroke="#444444" stroke-width="1.7" stroke-linecap="round"/>
<path d="M 138.232,346.54 L 146.168,346.54" fill="none" stroke="#444444" stroke-width="1.7" stroke-linecap="round"/>
<path d="M 137.24,350.44 L 146.664,350.44 Q 145.424,356.55 139.472,358.5" fill="none" stroke="#444444" stroke-width="1.7" stroke-linecap="round"/>
<path d="M 152.636,346.8 L 161.068,346.8 Q 158.588,353.56 151.644,357.85" fill="none" stroke="#444444" stroke-width="1.7" stroke-linecap="round"/>
<path d="M 157.1,353.3 L 162.68,357.85" fill="none" stroke="#444444" stroke-width="1.7" stroke-linecap="round"/>
<path d="M 1115.67,390.65 Q 1112.2,395.46 1106.62,398.06" fill="none" stroke="#555555" stroke-width="1.5" stroke-linecap="round"/>
<path d="M 1112.2,394.68 L 1112.2,403" fill="none" stroke="#555555" stroke-width="1.5" stroke-linecap="round"/>
<path d="M 1122.39,391.95 L 1125.36,394.55" fill="none" stroke="#555555" stroke-width="1.5" stroke-linecap="round"/>
<path d="M 1121.89,401.96 Q 1128.59,400.66 1132.31,392.86" fill="none" stroke="#555555" stroke-width="1.5" stroke-linecap="round"/>
<path d="M 1136.3,394.68 L 1147.7,394.68" fill="none" stroke="#555555" stroke-width="1.5" stroke-linecap="round"/>
<path d="M 1142.25,390.26 L 1142.25,396.5 Q 1141.75,401.05 1138.28,403" fill="none" stroke="#555555" stroke-width="1.5" stroke-linecap="round"/>
<path d="M 1151.32,396.5 L 1162.48,396.5" fill="none" stroke="#555555" stroke-width="1.5" stroke-linecap="round"/>
<path d="M 1168.08,391.04 L 1175.52,391.04" fill="none" stroke="#555555" stroke-width="1.5" stroke-linecap="round"/>
<path d="M 1166.1,394.94 L 1177.5,394.94" fill="none" stroke="#555555" stroke-width="1.5" stroke-linecap="round"/>
<path d="M 1172.05,394.94 Q 1172.05,400.66 1168.58,403" fill="none" stroke="#555555" stroke-width="1.5" stroke-linecap="round"/>
<path d="M 1182.73,391.04 L 1190.67,391.04" fill="none" stroke="#555555" stroke-width="1.5" stroke-linecap="round"/>
<path d="M 1181.74,394.94 L 1191.16,394.94 Q 1189.92,401.05 1183.97,403" fill="none" stroke="#555555" stroke-width="1.5" stroke-linecap="round"/>
<path d="M 1197.14,391.3 L 1205.57,391.3 Q 1203.09,398.06 1196.14,402.35" fill="none" stroke="#555555" stroke-width="1.5" stroke-linecap="round"/>
<path d="M 1201.6,397.8 L 1207.18,402.35" fill="none" stroke="#555555" stroke-width="1.5" stroke-linecap="round"/>
<polygon points="330,191.75 71.5,191.75 71.5,182.5 38.5,197.5 71.5,212.5 71.5,203.25 330,203.25" fill="#67ab8f" stroke="#dcf2e8" stroke-width="2.4" stroke-linejoin="round"/>
<polygon points="330,191.75 591,191.75 591,182.5 624,197.5 591,212.5 591,203.25 330,203.25" fill="#67ab8f" stroke="#dcf2e8" stroke-width="2.4" stroke-linejoin="round"/>
<polygon points="930,191.75 667.5,191.75 667.5,182.5 634.5,197.5 667.5,212.5 667.5,203.25 930,203.25" fill="#67ab8f" stroke="#dcf2e8" stroke-width="2.4" stroke-linejoin="round"/>
<polygon points="930,191.75 1190,191.75 1190,182.5 1223,197.5 1190,212.5 1190,203.25 930,203.25" fill="#67ab8f" stroke="#dcf2e8" stroke-width="2.4" stroke-linejoin="round"/>
<polygon points="423.75,160 423.75,76.5 414.5,76.5 429.5,42.5 444.5,76.5 435.25,76.5 435.25,160" fill="#67ab8f" stroke="#dcf2e8" stroke-width="2.4" stroke-linejoin="round"/>
<polygon points="423.75,160 423.75,246.5 414.5,246.5 429.5,280.5 444.5,246.5 435.25,246.5 435.25,160" fill="#67ab8f" stroke="#dcf2e8" stroke-width="2.4" stroke-linejoin="round"/>
<polygon points="330,191.75 71.5,191.75 71.5,182.5 38.5,197.5 71.5,212.5 71.5,203.25 330,203.25" fill="#67ab8f"/>
<polygon points="330,191.75 591,191.75 591,182.5 624,197.5 591,212.5 591,203.25 330,203.25" fill="#67ab8f"/>
<polygon points="930,191.75 667.5,191.75 667.5,182.5 634.5,197.5 667.5,212.5 667.5,203.25 930,203.25" fill="#67ab8f"/>
<polygon points="930,191.75 1190,191.75 1190,182.5 1223,197.5 1190,212.5 1190,203.25 930,203.25" fill="#67ab8f"/>
<polygon points="423.75,160 423.75,76.5 414.5,76.5 429.5,42.5 444.5,76.5 435.25,76.5 435.25,160" fill="#67ab8f"/>
<polygon points="423.75,160 423.75,246.5 414.5,246.5 429.5,280.5 444.5,246.5 435.25,246.5 435.25,160" fill="#67ab8f"/>
</svg>
</body></html>
